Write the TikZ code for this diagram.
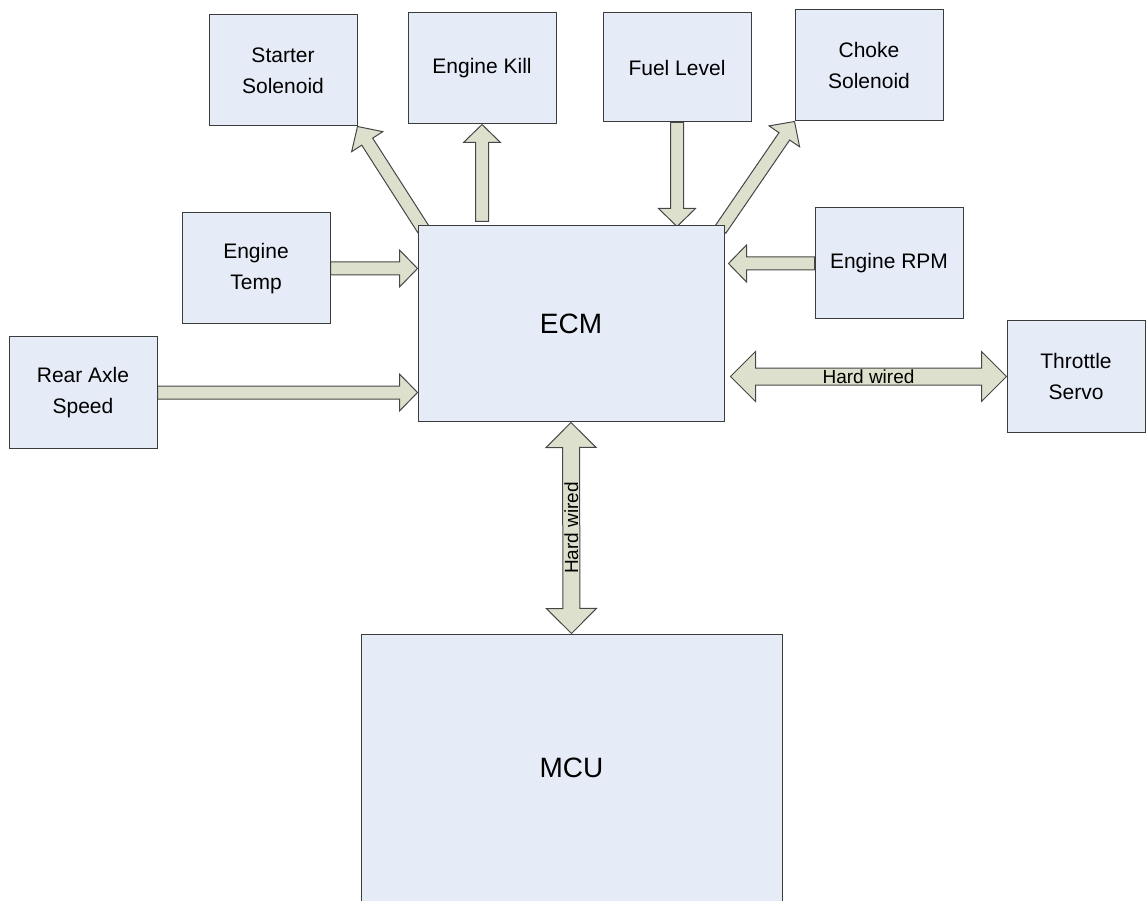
\documentclass[tikz,border=0pt]{standalone}
\usepackage{fontspec}
\setmainfont{Liberation Sans}
\usetikzlibrary{calc,backgrounds}
\definecolor{boxfill}{RGB}{230,236,247}
\definecolor{boxline}{RGB}{60,60,60}
\definecolor{arrfill}{RGB}{221,224,204}
\definecolor{arrline}{RGB}{70,70,70}
\tikzset{
  blk/.style={draw=boxline, fill=boxfill, line width=1pt, rectangle, inner sep=0pt,
    align=center, font=\fontsize{21}{31}\selectfont, minimum width=148pt, minimum height=111pt},
  bigblk/.style={blk, font=\fontsize{28}{32}\selectfont},
  arrowstyle/.style={draw=arrline, fill=arrfill, line width=1pt, line join=miter},
  lbl/.style={inner sep=0pt, font=\fontsize{19}{22}\selectfont}
}
\newcommand{\sarrow}[2]{%
  \coordinate (sa-b) at ($(#2)!18pt!(#1)$);
  \filldraw[arrowstyle] ($(#1)!6.5pt!90:(#2)$) -- ($(sa-b)!6.5pt!-90:(#1)$) -- ($(sa-b)!18.5pt!-90:(#1)$) -- (#2) -- ($(sa-b)!18.5pt!90:(#1)$) -- ($(sa-b)!6.5pt!90:(#1)$) -- ($(#1)!6.5pt!-90:(#2)$) -- cycle;}
\newcommand{\darrow}[2]{%
  \coordinate (da-b1) at ($(#1)!25pt!(#2)$);
  \coordinate (da-b2) at ($(#2)!25pt!(#1)$);
  \filldraw[arrowstyle] (#1) -- ($(da-b1)!25pt!90:(#2)$) -- ($(da-b1)!8.5pt!90:(#2)$) -- ($(da-b2)!8.5pt!-90:(#1)$) -- ($(da-b2)!25pt!-90:(#1)$) -- (#2) -- ($(da-b2)!25pt!90:(#1)$) -- ($(da-b2)!8.5pt!90:(#1)$) -- ($(da-b1)!8.5pt!-90:(#2)$) -- ($(da-b1)!25pt!-90:(#2)$) -- cycle;}
\begin{document}
\begin{tikzpicture}[x=1pt,y=-1pt]
\useasboundingbox (0,0) rectangle (1146,901);
% boxes
\node[blk] (starter) at (283,70.5) {Starter\\Solenoid};
\node[blk] (kill) at (482,68.5) {Engine Kill};
\node[blk, minimum height=109pt] (fuel) at (677,67.5) {Fuel Level};
\node[blk] (choke) at (869,65.5) {Choke\\Solenoid};
\node[blk] (temp) at (256,268.5) {Engine\\Temp};
\node[blk] (rpm) at (889,263.5) {Engine RPM};
\node[blk] (rear) at (83,392.5) {Rear Axle\\Speed};
\node[blk, minimum width=138pt] (throttle) at (1076,376.5) {Throttle\\Servo};
\node[bigblk, minimum width=306pt, minimum height=195pt] (ecm) at (571,323.5) {ECM};
\node[bigblk, minimum width=421pt, minimum height=268pt] (mcu) at (571.5,768) {MCU};
% connector end points
\coordinate (st0) at ($(ecm.north west)+(6,4)$);
\coordinate (ch0) at ($(ecm.north east)+(-4,4)$);
\coordinate (ki0) at ($(kill.south |- ecm.north)+(0,-4)$);
\coordinate (fu1) at ($(fuel.south |- ecm.north)+(0,1)$);
\coordinate (rp1) at ($(rpm.west -| ecm.east)+(4,0)$);
\coordinate (te1) at (temp.east -| ecm.west);
\coordinate (re1) at (rear.east -| ecm.west);
\coordinate (th0) at ($(throttle.west -| ecm.east)+(6,0)$);
\coordinate (mc0) at ($(ecm.south)+(0,1)$);
\begin{scope}[on background layer]
\sarrow{st0}{starter.south east}
\sarrow{ki0}{kill.south}
\sarrow{fuel.south}{fu1}
\sarrow{ch0}{choke.south west}
\sarrow{temp.east}{te1}
\sarrow{rpm.west}{rp1}
\sarrow{rear.east}{re1}
\darrow{th0}{throttle.west}
\darrow{mc0}{mcu.north}
\end{scope}
\node[lbl] (hw1) at ($(th0)!0.5!(throttle.west)$) {Hard wired};
\node[lbl, rotate=90] (hw2) at ($(mc0)!0.5!(mcu.north)$) {Hard wired};
\end{tikzpicture}
\end{document}
